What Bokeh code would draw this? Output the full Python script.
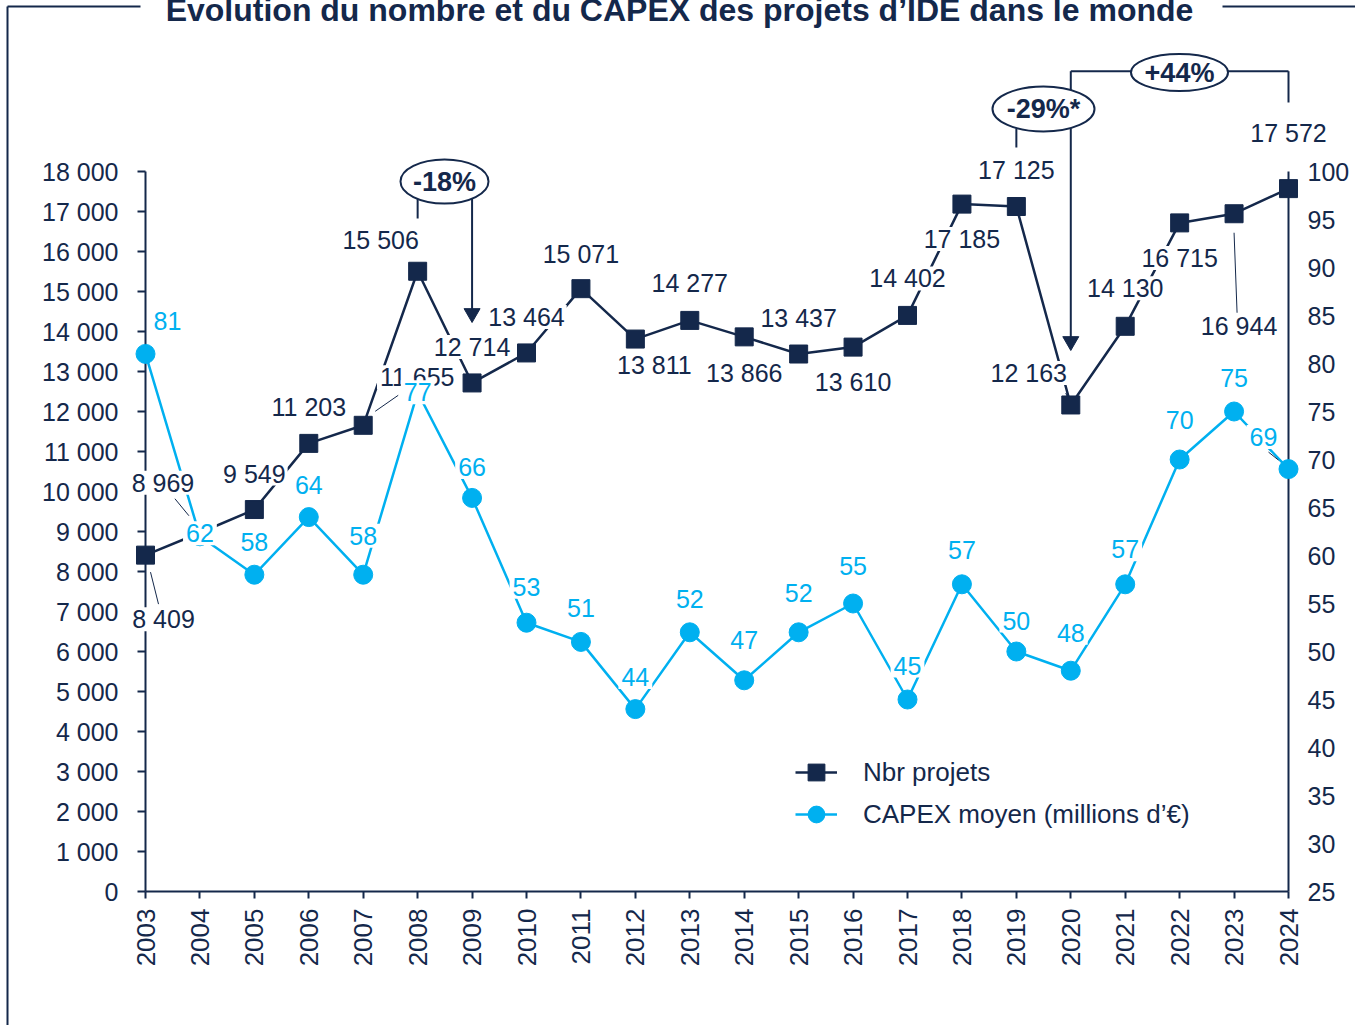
import math
from bokeh.plotting import figure
from bokeh.models import (Range1d, LinearAxis, FixedTicker, CustomJSTickFormatter,
                          Legend, LegendItem)
from bokeh.embed import file_html
from bokeh.resources import INLINE
from bokeh.core.properties import value

# ---------------- data ----------------
years = list(range(2003, 2025))
nbr_projets = [8409, 8969, 9549, 11203, 11655, 15506, 12714, 13464, 15071, 13811, 14277,
               13866, 13437, 13610, 14402, 17185, 17125, 12163, 14130, 16715, 16944, 17572]
capex_moyen = [81, 62, 58, 64, 58, 77, 66, 53, 51, 44, 52, 47, 52, 55, 45, 57, 50, 48,
               57, 70, 75, 69]
left_ticks = list(range(0, 18001, 1000))
right_ticks = list(range(25, 101, 5))
title_text = "Évolution du nombre et du CAPEX des projets d’IDE dans le monde"
series_names = ["Nbr projets", "CAPEX moyen (millions d’€)"]
variation_texts = ["-18%", "-29%*", "+44%"]

# ---------------- style / layout ----------------
DARK = "#14284B"
CYAN = "#00B0F0"
FONT = "Liberation Sans"
W, H = 1355, 1025
FRAME_L, FRAME_T, FW, FH = 145, 171, 1143, 720
L_MIN, L_MAX = 0, 18000
R_MIN, R_MAX = 25, 100
XPP = (years[-1] - years[0]) / FW        # years per pixel
LPP = (L_MAX - L_MIN) / FH               # left units per pixel
RPP = (R_MAX - R_MIN) / FH               # right units per pixel
LABEL_SIZE = 25


def px_x(sx):
    return years[0] + (sx - FRAME_L) * XPP


def px_y(sy):
    return L_MIN + (FRAME_T + FH - sy) * LPP


def text_w(t, size):
    return sum(0.556 if c.isdigit() else 0.278 for c in t) * size


# label offsets in pixels (dx right, dy down)
proj_dx = [18, -37, 0, 0, 54, -37, 0, 0, 0, 19, 0, 0, 0, 0, 0, 0, 0, -42, 0, 0, 5, 0]
proj_dy = [64, -50, -36, -36, -48, -31, -36, -36, -35, 26, -37, 36, -36, 35, -37, 35,
           -37, -32, -38, 35, 112, -56]
capex_dx = [22, 0, 0, 0, 0, 0, 0, 0, 0, 0, 0, 0, 0, 0, 0, 0, 0, 0, 0, 0, 0, -25]
capex_dy = [-33, -3, -33, -32, -39, 0, -31, -36, -34, -32, -33, -40, -39, -38, -34, -34,
            -31, -38, -35, -40, -34, -32]

p = figure(frame_width=FW, frame_height=FH,
           x_range=Range1d(years[0], years[-1]), y_range=Range1d(L_MIN, L_MAX),
           output_backend="svg", toolbar_location=None,
           min_border_left=FRAME_L, min_border_right=W - FRAME_L - FW,
           min_border_top=FRAME_T, min_border_bottom=H - FRAME_T - FH)
p.extra_y_ranges = {"capex": Range1d(R_MIN, R_MAX)}
p.outline_line_color = None
p.xgrid.visible = False
p.ygrid.visible = False
p.background_fill_color = "white"
p.border_fill_color = "white"

fmt = CustomJSTickFormatter(code=r"return tick.toString().replace(/\B(?=(\d{3})+(?!\d))/g, ' ');")


def style_axis(ax, tick_out, size, standoff):
    ax.axis_line_color = DARK
    ax.axis_line_width = 2
    ax.major_tick_line_color = DARK
    ax.major_tick_line_width = 2
    ax.major_tick_out = tick_out
    ax.major_tick_in = 0
    ax.minor_tick_line_color = None
    ax.major_label_text_font = FONT
    ax.major_label_text_font_size = size
    ax.major_label_text_color = DARK
    ax.major_label_standoff = standoff


yl = p.yaxis[0]
yl.ticker = FixedTicker(ticks=left_ticks)
yl.formatter = fmt
style_axis(yl, 8, "25px", 19)

yr = LinearAxis(y_range_name="capex", ticker=FixedTicker(ticks=right_ticks))
style_axis(yr, 0, "25px", 19)
yr.major_tick_line_color = None
p.add_layout(yr, "right")

xa = p.xaxis[0]
xa.ticker = FixedTicker(ticks=years)
xa.major_label_orientation = math.pi / 2
style_axis(xa, 7, "26px", 10)

ANN = dict(level="annotation")

# ---------------- frame & title ----------------
p.segment(x0=[px_x(7), px_x(7), px_x(1222)], y0=[px_y(6), px_y(6), px_y(6)],
          x1=[px_x(7), px_x(140), px_x(1370)], y1=[px_y(1045), px_y(6), px_y(6)],
          line_color=DARK, line_width=2, **ANN)
p.text(x=[px_x(679)], y=[px_y(9)], text=[title_text], text_align="center",
       text_baseline="alphabetic", text_font=value(FONT), text_font_style="bold",
       text_font_size="32px", text_color=DARK, **ANN)

# ---------------- series ----------------
l1 = p.line(years, nbr_projets, line_color=DARK, line_width=2.5, **ANN)
l2 = p.line(years, capex_moyen, y_range_name="capex", line_color=CYAN, line_width=2.5, **ANN)
s1 = p.scatter(years, nbr_projets, marker="square", size=18, fill_color=DARK,
               line_color=DARK, **ANN)
s2 = p.scatter(years, capex_moyen, y_range_name="capex", marker="circle", size=19,
               fill_color=CYAN, line_color=CYAN, **ANN)

# leader lines: (series, index, start dx, start dy, end dx, end dy) in pixels
leaders = [("p", 0, 5, 17, 13, 49), ("p", 1, -25, -34, -11, -17), ("p", 4, 12, -14, 35, -30),
           ("p", 20, 0, 19, 3, 99), ("p", 17, -5, -12, -2, -4), ("c", 21, -20, -17, -10, -9)]
lx0, ly0, lx1, ly1 = [], [], [], []
for s, i, a, b, c, d in leaders:
    base = nbr_projets[i] if s == "p" else L_MIN + (capex_moyen[i] - R_MIN) / RPP * LPP
    lx0.append(years[i] + a * XPP)
    lx1.append(years[i] + c * XPP)
    ly0.append(base - b * LPP)
    ly1.append(base - d * LPP)
p.segment(x0=lx0, y0=ly0, x1=lx1, y1=ly1, line_color=DARK, line_width=1, **ANN)

# ---------------- variation annotations ----------------
var_x = [px_x(444), px_x(1043), px_x(1179)]
var_y = [px_y(181), px_y(108.5), px_y(72)]
var_w = [88, 102, 97]
var_h = [44, 45, 37]
# connectors (drawn under the ellipses)
p.segment(x0=[years[5], years[16], years[17], years[17]],
          y0=[px_y(198), px_y(128), px_y(70.7), px_y(70.7)],
          x1=[years[5], years[16], years[17], years[21]],
          y1=[px_y(218), px_y(147), px_y(108), px_y(70.7)],
          line_color=DARK, line_width=2, **ANN)
p.ellipse(x=var_x, y=var_y, width=var_w, height=var_h, width_units="screen",
          height_units="screen", fill_color="white", line_color=DARK, line_width=2, **ANN)
# arrows: (x, start px, tip px)
arrows = [(years[6], 198, 322), (years[17], 128, 350), (years[21], 70.7, 110)]
HEAD = 16
p.segment(x0=[a[0] for a in arrows], y0=[px_y(a[1]) for a in arrows],
          x1=[a[0] for a in arrows], y1=[px_y(a[2] - 8) for a in arrows],
          line_color=DARK, line_width=2, **ANN)
p.scatter(x=[a[0] for a in arrows], y=[px_y(a[2] - HEAD * 0.577) for a in arrows],
          marker="inverted_triangle", size=HEAD, fill_color=DARK, line_color=DARK, **ANN)

# ---------------- data labels ----------------
pl_x = [y + dx * XPP for y, dx in zip(years, proj_dx)]
pl_y = [v - dy * LPP for v, dy in zip(nbr_projets, proj_dy)]
pl_t = [f"{v:,}".replace(",", " ") for v in nbr_projets]
cl_x = [y + dx * XPP for y, dx in zip(years, capex_dx)]
cl_y = [v - dy * RPP for v, dy in zip(capex_moyen, capex_dy)]
cl_t = [str(v) for v in capex_moyen]

p.rect(x=pl_x, y=pl_y, width=[text_w(t, LABEL_SIZE) + 4 for t in pl_t], height=24,
       width_units="screen", height_units="screen", fill_color="white", line_color=None, **ANN)
p.text(x=pl_x, y=pl_y, text=pl_t, text_align="center", text_baseline="middle",
       text_font=value(FONT), text_font_size=f"{LABEL_SIZE}px", text_color=DARK, **ANN)
p.rect(x=cl_x, y=cl_y, width=[text_w(t, LABEL_SIZE) + 6 for t in cl_t], height=24,
       width_units="screen", height_units="screen", fill_color="white", line_color=None,
       y_range_name="capex", **ANN)
p.text(x=cl_x, y=cl_y, text=cl_t, text_align="center", text_baseline="middle",
       text_font=value(FONT), text_font_size=f"{LABEL_SIZE}px", text_color=CYAN,
       y_range_name="capex", **ANN)
p.text(x=var_x, y=var_y, text=variation_texts, text_align="center", text_baseline="middle",
       text_font=value(FONT), text_font_style="bold", text_font_size="27px",
       text_color=DARK, **ANN)

# ---------------- legend ----------------
legend = Legend(items=[LegendItem(label=series_names[0], renderers=[l1, s1]),
                       LegendItem(label=series_names[1], renderers=[l2, s2])],
                location=(650, 56), glyph_width=42, glyph_height=42, spacing=0,
                padding=0, margin=0, label_standoff=26, label_text_font=FONT,
                label_text_font_size="26px", label_text_color=DARK,
                border_line_alpha=0, background_fill_alpha=0)
p.add_layout(legend)

open("out.html", "w").write(file_html(p, INLINE))
